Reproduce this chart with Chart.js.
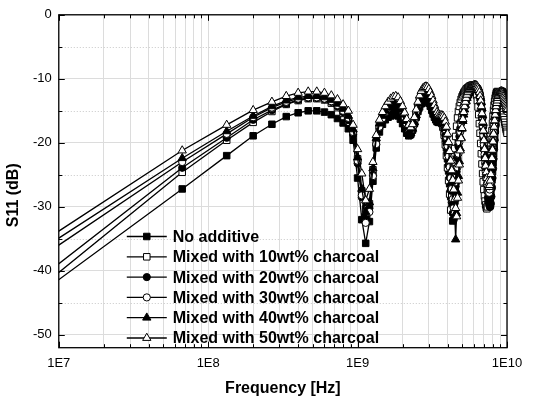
<!DOCTYPE html>
<html><head><meta charset="utf-8">
<script src="https://cdn.jsdelivr.net/npm/chart.js@4.4.1/dist/chart.umd.min.js"></script>
<style>html,body{margin:0;padding:0;background:#fff}#wrap{width:533px;height:402px;position:relative}</style>
</head><body><div id="wrap"><canvas id="c"></canvas></div>
<script>
// Frequency sweep (MHz)
const freqMHz = [0.3,67,133,200,267,333,400,467,533,600,667,733,800,867,933,1000,
1067,1133,1200,1267,1333,1400,1467,1533,1600,1667,1733,1800,1867,1933,2000,
2067,2133,2200,2267,2333,2400,2467,2533,2600,2667,2733,2800,2867,2933,3000,
3067,3133,3200,3267,3333,3400,3467,3533,3600,3667,3733,3800,3867,3933,4000,
4067,4133,4200,4267,4333,4400,4467,4533,4600,4667,4733,4800,4867,4933,5000,
5067,5133,5200,5267,5333,5400,5467,5533,5600,5667,5733,5800,5867,5933,6000,
6067,6133,6200,6267,6333,6400,6467,6533,6600,6667,6733,6800,6867,6933,7000,
7067,7133,7200,7267,7333,7400,7467,7533,7600,7667,7733,7800,7867,7933,8000,
8067,8133,8200,8267,8333,8400,8467,8533,8600,8667,8733,8800,8867,8933,9000,
9067,9133,9200,9267,9333,9400,9467,9533,9600,9667,9733,9800,9867,9933,10000];

const s11NoAdditive = [-67.5,-27.2,-22.0,-18.9,-17.1,-15.9,-15.3,-15.0,-15.0,-15.2,
-15.6,-16.2,-16.9,-17.8,-19.6,-25.5,-32.0,-35.7,-32.3,-26.0,
-20.8,-18.3,-17.1,-16.4,-16.0,-15.8,-15.6,-15.6,-15.8,-16.3,
-17.0,-17.8,-18.5,-18.9,-18.7,-18.0,-17.0,-16.0,-15.1,-14.4,
-13.9,-13.6,-13.4,-13.3,-13.4,-13.8,-14.3,-14.9,-15.5,-16.0,
-16.4,-16.7,-16.8,-16.8,-16.8,-17.0,-17.5,-18.3,-19.4,-20.8,
-22.5,-24.4,-26.4,-28.4,-30.3,-32.2,-29.5,-27.0,-24.7,-22.6,
-20.8,-19.2,-17.9,-16.8,-15.9,-15.2,-14.6,-14.1,-13.7,-13.3,
-13.0,-12.7,-12.5,-12.3,-12.1,-12.0,-11.9,-11.8,-11.7,-11.6,
-11.6,-11.5,-11.5,-11.5,-11.6,-11.7,-11.9,-12.2,-12.6,-13.1,
-13.8,-14.8,-16.0,-17.4,-18.9,-20.5,-22.0,-23.5,-24.9,-26.0,
-26.9,-27.6,-28.1,-28.4,-28.6,-28.7,-28.6,-28.0,-27.0,-25.8,
-24.5,-23.1,-21.7,-20.4,-19.2,-18.1,-17.1,-16.2,-15.4,-14.7,
-14.1,-13.6,-13.2,-12.9,-12.6,-12.4,-12.2,-12.1,-12.0,-12.0,
-12.1,-12.2,-12.4,-12.6,-12.9,-13.2,-13.5,-13.8,-14.1,-14.4,
-14.7];

const s11Charcoal10 = [-69.1,-24.6,-19.6,-16.8,-15.1,-14.0,-13.4,-13.1,-13.1,-13.3,
-13.8,-14.5,-15.4,-16.5,-18.6,-22.5,-27.5,-30.3,-29.5,-24.2,
-19.8,-17.3,-16.0,-15.2,-14.7,-14.4,-14.2,-14.2,-14.4,-14.9,
-15.7,-16.6,-17.5,-18.1,-18.2,-17.6,-16.6,-15.4,-14.3,-13.4,
-12.8,-12.4,-12.2,-12.1,-12.2,-12.5,-13.0,-13.6,-14.3,-15.0,
-15.5,-15.8,-15.9,-15.9,-16.1,-16.7,-17.6,-18.8,-20.3,-22.0,
-23.9,-25.9,-28.0,-30.5,-28.0,-25.4,-23.0,-20.9,-19.0,-17.4,
-16.1,-15.1,-14.3,-13.7,-13.2,-12.8,-12.5,-12.2,-12.0,-11.8,
-11.6,-11.5,-11.4,-11.3,-11.2,-11.1,-11.1,-11.0,-11.0,-11.0,
-11.1,-11.3,-11.6,-12.0,-12.6,-13.4,-14.4,-15.6,-17.0,-18.5,
-20.1,-21.7,-23.3,-24.8,-26.1,-27.3,-28.3,-29.1,-29.7,-30.1,
-30.3,-30.0,-29.0,-27.6,-26.0,-24.3,-22.6,-21.0,-19.5,-18.1,
-16.9,-15.8,-14.9,-14.1,-13.5,-13.0,-12.6,-12.3,-12.1,-12.0,
-12.0,-12.1,-12.2,-12.4,-12.6,-12.9,-13.2,-13.6,-14.0,-14.4,
-14.8,-15.2,-15.6,-16.0,-16.4,-16.8,-17.2,-17.6,-17.9,-18.2,
-18.5];

const s11Charcoal20 = [-66.5,-23.9,-19.2,-16.4,-14.9,-13.9,-13.3,-13.0,-13.0,-13.2,
-13.6,-14.3,-15.2,-16.4,-18.7,-23.2,-28.5,-31.5,-30.2,-25.0,
-20.3,-17.8,-16.6,-15.9,-15.5,-15.2,-15.0,-15.0,-15.2,-15.7,
-16.5,-17.4,-18.2,-18.8,-18.8,-18.1,-17.1,-16.0,-15.0,-14.2,
-13.7,-13.4,-13.2,-13.1,-13.2,-13.6,-14.1,-14.7,-15.3,-15.8,
-16.2,-16.5,-16.6,-16.6,-16.6,-16.7,-17.1,-17.8,-18.8,-20.1,
-21.7,-23.5,-25.4,-27.4,-29.3,-31.0,-32.0,-29.4,-26.8,-24.5,
-22.4,-20.6,-19.0,-17.7,-16.6,-15.7,-15.0,-14.4,-13.9,-13.5,
-13.1,-12.8,-12.6,-12.4,-12.2,-12.0,-11.9,-11.8,-11.7,-11.6,
-11.5,-11.5,-11.4,-11.4,-11.4,-11.5,-11.6,-11.8,-12.1,-12.5,
-13.1,-13.9,-14.9,-16.1,-17.5,-19.0,-20.6,-22.2,-23.8,-25.2,
-26.5,-27.6,-28.5,-29.2,-29.7,-30.0,-30.0,-29.5,-28.4,-27.0,
-25.5,-24.0,-22.5,-21.0,-19.6,-18.3,-17.2,-16.2,-15.3,-14.6,
-14.0,-13.5,-13.1,-12.8,-12.5,-12.3,-12.1,-12.0,-11.9,-11.9,
-12.0,-12.1,-12.3,-12.5,-12.7,-13.0,-13.3,-13.6,-13.9,-14.2,
-14.5];

const s11Charcoal30 = [-59.9,-23.0,-18.6,-16.0,-14.5,-13.6,-13.1,-12.9,-12.9,-13.1,
-13.5,-14.1,-15.0,-16.1,-18.3,-22.8,-28.2,-32.5,-30.8,-25.2,
-20.2,-17.5,-16.2,-15.2,-14.5,-14.0,-13.6,-13.5,-13.7,-14.3,
-15.1,-16.1,-17.1,-17.9,-18.2,-17.6,-16.6,-15.3,-14.1,-13.1,
-12.4,-12.0,-11.8,-11.7,-11.8,-12.1,-12.6,-13.2,-13.9,-14.6,
-15.2,-15.6,-15.9,-16.0,-16.0,-16.1,-16.4,-17.0,-17.9,-19.1,
-20.5,-22.1,-23.8,-25.5,-27.2,-28.8,-30.2,-31.0,-28.6,-26.1,
-23.8,-21.7,-19.9,-18.3,-17.0,-15.9,-15.0,-14.3,-13.7,-13.2,
-12.8,-12.5,-12.2,-12.0,-11.8,-11.7,-11.6,-11.5,-11.4,-11.3,
-11.3,-11.2,-11.2,-11.2,-11.3,-11.4,-11.6,-11.9,-12.3,-12.9,
-13.7,-14.7,-15.9,-17.3,-18.8,-20.3,-21.8,-23.2,-24.5,-25.6,
-26.5,-27.2,-27.6,-27.8,-27.8,-27.3,-26.3,-25.0,-23.6,-22.2,
-20.8,-19.5,-18.3,-17.2,-16.2,-15.4,-14.7,-14.1,-13.6,-13.2,
-12.9,-12.6,-12.4,-12.2,-12.1,-12.0,-12.0,-12.0,-12.1,-12.2,
-12.4,-12.6,-12.8,-13.0,-13.3,-13.6,-13.9,-14.2,-14.5,-14.8,
-15.1];

const s11Charcoal40 = [-57.9,-22.4,-18.2,-15.8,-14.3,-13.4,-12.9,-12.7,-12.7,-12.9,
-13.3,-13.9,-14.7,-15.8,-17.9,-22.3,-27.2,-30.8,-29.3,-24.0,
-19.3,-17.0,-15.8,-15.0,-14.5,-14.2,-14.0,-14.0,-14.2,-14.8,
-15.6,-16.6,-17.6,-18.4,-18.5,-17.8,-16.8,-15.7,-14.7,-13.9,
-13.3,-12.9,-12.7,-12.6,-12.7,-13.0,-13.5,-14.1,-14.7,-15.3,
-15.8,-16.1,-16.3,-16.3,-16.3,-16.3,-16.5,-17.0,-17.7,-18.7,
-19.9,-21.3,-22.8,-24.4,-26.0,-27.6,-29.2,-31.3,-35.1,-31.0,
-27.8,-25.2,-22.9,-20.9,-19.2,-17.8,-16.6,-15.6,-14.8,-14.1,
-13.5,-13.0,-12.6,-12.3,-12.0,-11.8,-11.7,-11.6,-11.5,-11.4,
-11.4,-11.3,-11.3,-11.3,-11.3,-11.4,-11.5,-11.7,-12.0,-12.4,
-13.0,-13.7,-14.6,-15.7,-16.9,-18.2,-19.5,-20.8,-22.0,-23.0,
-23.9,-24.6,-25.1,-25.4,-25.5,-25.4,-25.0,-24.2,-23.2,-22.0,
-20.8,-19.6,-18.5,-17.5,-16.6,-15.8,-15.1,-14.5,-14.0,-13.6,
-13.2,-12.9,-12.7,-12.5,-12.3,-12.2,-12.1,-12.0,-12.0,-12.0,
-12.1,-12.2,-12.3,-12.5,-12.7,-12.9,-13.1,-13.3,-13.5,-13.7,
-13.9];

const s11Charcoal50 = [-57.0,-21.2,-17.2,-14.9,-13.6,-12.7,-12.2,-12.0,-12.0,-12.2,
-12.6,-13.2,-14.0,-15.0,-17.2,-21.0,-24.8,-29.0,-27.2,-23.0,
-18.8,-16.4,-15.2,-14.3,-13.6,-13.1,-12.8,-12.7,-12.9,-13.5,
-14.3,-15.3,-16.3,-17.2,-17.6,-17.1,-16.0,-14.8,-13.6,-12.6,
-11.9,-11.5,-11.3,-11.2,-11.3,-11.6,-12.1,-12.7,-13.4,-14.1,
-14.7,-15.2,-15.5,-15.7,-15.7,-15.7,-15.8,-16.1,-16.7,-17.5,
-18.6,-19.9,-21.3,-22.8,-24.3,-25.8,-27.3,-28.8,-30.2,-31.5,
-28.6,-25.9,-23.4,-21.2,-19.3,-17.7,-16.3,-15.2,-14.3,-13.6,
-13.0,-12.5,-12.1,-11.8,-11.6,-11.4,-11.3,-11.2,-11.1,-11.1,
-11.0,-11.0,-11.0,-11.0,-11.1,-11.2,-11.4,-11.7,-12.1,-12.7,
-13.4,-14.3,-15.4,-16.7,-18.1,-19.6,-21.0,-22.4,-23.6,-24.6,
-25.5,-26.1,-26.6,-26.9,-26.9,-26.6,-25.9,-24.9,-23.7,-22.4,
-21.1,-19.8,-18.6,-17.5,-16.5,-15.6,-14.9,-14.3,-13.8,-13.4,
-13.0,-12.7,-12.5,-12.3,-12.2,-12.1,-12.0,-12.0,-12.0,-12.1,
-12.2,-12.4,-12.6,-12.8,-13.1,-13.4,-13.7,-14.0,-14.3,-14.6,
-14.9];

const seriesLabels = ['No additive','Mixed with 10wt% charcoal','Mixed with 20wt% charcoal',
  'Mixed with 30wt% charcoal','Mixed with 40wt% charcoal','Mixed with 50wt% charcoal'];
const xTickValues = [1e7, 1e8, 1e9, 1e10];
const xTickLabels = ['1E7', '1E8', '1E9', '1E10'];
const yTickValues = [0, -10, -20, -30, -40, -50];
const yTickLabels = ['0', '-10', '-20', '-30', '-40', '-50'];
const xAxisTitle = 'Frequency [Hz]';
const yAxisTitle = 'S11 (dB)';

// ---- styling ----
const FONT = "'Liberation Sans', Arial, Helvetica, sans-serif";
const seriesValues = [s11NoAdditive, s11Charcoal10, s11Charcoal20, s11Charcoal30, s11Charcoal40, s11Charcoal50];
const markerStyle = [
  {pointStyle:'rect', radius:4.6, fill:'#000'},
  {pointStyle:'rect', radius:4.6, fill:'#fff'},
  {pointStyle:'circle', radius:3.6, fill:'#000'},
  {pointStyle:'circle', radius:3.6, fill:'#fff'},
  {pointStyle:'triangle', radius:4.8, fill:'#000'},
  {pointStyle:'triangle', radius:4.8, fill:'#fff'}
];

// grid positions for the log axis (1..9 x each decade)
const xGrid = [];
for (let d = 1e7; d < 1e10; d *= 10) for (let m = 1; m < 10; m++) xGrid.push(m * d);
xGrid.push(1e10);
const yGrid = [0,-5,-10,-15,-20,-25,-30,-35,-40,-45,-50];

const datasets = seriesValues.map((vals, i) => ({
  label: seriesLabels[i],
  data: freqMHz.map((f, k) => ({x: f * 1e6, y: vals[k]})),
  borderColor: '#000',
  borderWidth: 1.3,
  backgroundColor: markerStyle[i].fill,
  pointStyle: markerStyle[i].pointStyle,
  pointRadius: markerStyle[i].radius,
  pointBackgroundColor: markerStyle[i].fill,
  pointBorderColor: '#000',
  pointBorderWidth: 1,
  tension: 0,
  fill: false,
  order: 5 - i
}));

const decor = {
  id: 'decor',
  beforeDatasetsDraw(chart) {
    const {ctx, chartArea: a, scales: {y}} = chart;
    ctx.save();
    ctx.strokeStyle = '#c8c8c8';
    ctx.lineWidth = 1;
    ctx.setLineDash([1, 2]);
    yGrid.forEach(v => {
      if (v % 10 === 0) return;
      const py = Math.round(y.getPixelForValue(v)) + 0.5;
      ctx.beginPath(); ctx.moveTo(a.left, py); ctx.lineTo(a.right, py); ctx.stroke();
    });
    ctx.restore();
  },
  afterDraw(chart) {
    const {ctx, chartArea: a, scales: {x, y}} = chart;
    ctx.save();
    // frame
    ctx.strokeStyle = '#000';
    ctx.lineWidth = 1.3;
    ctx.strokeRect(a.left, a.top, a.right - a.left, a.bottom - a.top);
    // inward ticks
    ctx.lineWidth = 1;
    xGrid.forEach(v => {
      const px = Math.round(x.getPixelForValue(v)) + 0.5;
      const len = xTickValues.includes(v) ? 6 : 3.5;
      ctx.beginPath();
      ctx.moveTo(px, a.bottom); ctx.lineTo(px, a.bottom - len);
      ctx.moveTo(px, a.top); ctx.lineTo(px, a.top + len);
      ctx.stroke();
    });
    yGrid.forEach(v => {
      const py = Math.round(y.getPixelForValue(v)) + 0.5;
      const len = v % 10 === 0 ? 6 : 3.5;
      ctx.beginPath();
      ctx.moveTo(a.left, py); ctx.lineTo(a.left + len, py);
      ctx.moveTo(a.right, py); ctx.lineTo(a.right - len, py);
      ctx.stroke();
    });
    // y axis title
    ctx.fillStyle = '#000';
    ctx.font = 'bold 16px ' + FONT;
    ctx.textAlign = 'center';
    ctx.textBaseline = 'middle';
    ctx.translate(14, (a.top + a.bottom) / 2 + 14);
    ctx.rotate(-Math.PI / 2);
    ctx.fillText(yAxisTitle, 0, 0);
    ctx.restore();

    // legend inside plot
    ctx.save();
    const lx0 = a.left + 68, lx1 = a.left + 108, mx = a.left + 88, tx = a.left + 114;
    const rowH = 20.3;
    const yBottom = a.bottom - 9.7;
    ctx.font = 'bold 16px ' + FONT;
    ctx.textAlign = 'left';
    ctx.textBaseline = 'middle';
    seriesLabels.forEach((lab, i) => {
      const ry = yBottom - (seriesLabels.length - 1 - i) * rowH;
      ctx.strokeStyle = '#000';
      ctx.lineWidth = 1.3;
      ctx.beginPath(); ctx.moveTo(lx0, ry); ctx.lineTo(lx1, ry); ctx.stroke();
      ctx.fillStyle = markerStyle[i].fill;
      ctx.lineWidth = 1;
      Chart.helpers.drawPoint(ctx, {pointStyle: markerStyle[i].pointStyle, radius: markerStyle[i].radius, rotation: 0, borderWidth: 1}, mx, ry);
      ctx.fillStyle = '#000';
      ctx.fillText(lab, tx, ry + 1);
    });
    ctx.restore();
  }
};

Chart.defaults.font.family = FONT;
Chart.defaults.color = '#000';

new Chart(document.getElementById('c'), {
  type: 'line',
  data: {datasets},
  options: {
    responsive: true,
    maintainAspectRatio: false,
    animation: false,
    events: [],
    layout: {padding: {left: 26, right: 26, top: 8, bottom: 3.5}},
    plugins: {legend: {display: false}, tooltip: {enabled: false}},
    scales: {
      x: {
        type: 'logarithmic', min: 1e7, max: 1e10,
        afterBuildTicks: s => { s.ticks = xGrid.map(v => ({value: v})); },
        ticks: {
          autoSkip: false, maxRotation: 0, minRotation: 0, padding: 8,
          font: {size: 13}, color: '#000',
          callback: v => { const i = xTickValues.indexOf(v); return i >= 0 ? xTickLabels[i] : ''; }
        },
        grid: {color: '#dcdcdc', lineWidth: 1, drawTicks: false},
        border: {display: false},
        title: {display: true, text: xAxisTitle, font: {size: 16, weight: 'bold'}, color: '#000', padding: {top: 0, bottom: 0}}
      },
      y: {
        type: 'linear', min: -52, max: 0,
        afterBuildTicks: s => { s.ticks = yGrid.map(v => ({value: v})); },
        ticks: {
          padding: 7, font: {size: 13}, color: '#000',
          callback: v => { const i = yTickValues.indexOf(v); return i >= 0 ? yTickLabels[i] : ''; }
        },
        grid: {color: c => (c.tick && c.tick.value % 10 === 0) ? '#dcdcdc' : 'rgba(0,0,0,0)', lineWidth: 1, drawTicks: false},
        border: {display: false},
        title: {display: false}
      }
    }
  },
  plugins: [decor]
});
</script></body></html>
